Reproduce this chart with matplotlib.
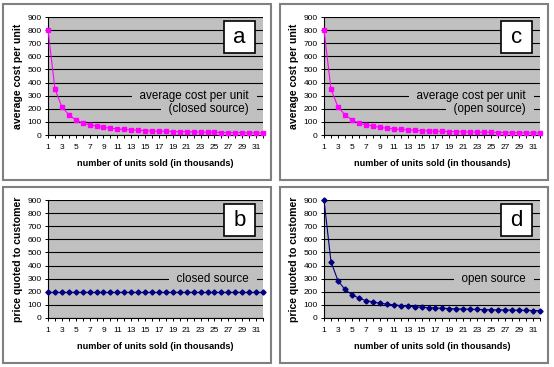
import matplotlib
matplotlib.use('Agg')
import matplotlib.pyplot as plt
from matplotlib.patches import Rectangle

plt.rcParams['font.family'] = ['Liberation Sans', 'DejaVu Sans']

units = list(range(1, 33))
cost_closed = [800, 350, 215, 155, 115, 90, 78, 68, 58, 52, 46, 42, 40, 36, 33, 31,
               29, 27, 26, 25, 24, 23, 22, 21, 20, 19, 18.5, 18, 17.5, 17, 16.5, 16]
cost_open = list(cost_closed)
price_closed = [200] * 32
price_open = [900, 430, 285, 218, 178, 152, 133, 122, 113, 106, 100, 95, 90, 86, 82, 79,
              76, 74, 72, 70, 68, 67, 65, 64, 63, 62, 61, 60, 59, 58, 57, 57]

W, H = 554, 367
fig = plt.figure(figsize=(W / 100, H / 100), dpi=100)
fig.patch.set_facecolor('white')

# panel borders (pixels: x0, y0, x1, y1)
for x0, y0, x1, y1 in [(3, 4, 271, 180), (280, 4, 548, 180), (3, 187, 271, 363), (280, 187, 548, 363)]:
    fig.patches.append(Rectangle((x0 / W, 1 - y1 / H), (x1 - x0) / W, (y1 - y0) / H,
                                 transform=fig.transFigure, fill=False,
                                 edgecolor='#808080', lw=1.5))

def panel(px, py, vals, color, marker, ylabel, letter, lines):
    x0, x1 = px
    y0, y1 = py
    ax = fig.add_axes([x0 / W, 1 - y1 / H, (x1 - x0) / W, (y1 - y0) / H])
    ax.set_facecolor('#C0C0C0')
    ax.plot(units, vals, color=color, marker=marker, ms=2.6,
            lw=0.8, zorder=5, clip_on=False)
    ax.set_xlim(1, 32)
    ax.set_ylim(0, 900)
    ax.set_yticks(range(0, 901, 100))
    ax.set_xticks(units)
    ax.set_xticklabels([str(u) if u % 2 == 1 else '' for u in units])
    ax.yaxis.grid(True, color='black', lw=0.8)
    ax.set_axisbelow(True)
    for s in ['top', 'right']:
        ax.spines[s].set_visible(False)
    ax.spines['left'].set_linewidth(0.8)
    ax.spines['bottom'].set_linewidth(0.8)
    ax.tick_params(axis='both', labelsize=6, length=2.5, width=0.7, pad=2, colors='black')
    ax.tick_params(axis='x', pad=4)
    ax.set_xlabel('number of units sold (in thousands)', fontsize=6.6, fontweight='bold', labelpad=6)
    ax.set_ylabel(ylabel, fontsize=7.6, fontweight='bold', labelpad=3)
    # letter box
    ax.add_patch(Rectangle((0.819, 0.692), 0.144, 0.276, transform=ax.transAxes,
                           facecolor='white', edgecolor='black', lw=1.2, zorder=6))
    ax.text(0.891, 0.83, letter, transform=ax.transAxes, ha='center', va='center',
            fontsize=16, zorder=7)
    for txt, yv in lines:
        ax.text(0.965, yv, '  ' + txt + '  ', transform=ax.get_yaxis_transform(),
                ha='right', va='center', fontsize=8.4, zorder=4,
                bbox=dict(facecolor='#C0C0C0', edgecolor='none', pad=0.8))
    return ax

panel((48, 263), (17, 135), cost_closed, '#FF00FF', 's', 'average cost per unit', 'a',
      [('average cost per unit', 300), ('(closed source)', 200)])
panel((324, 540), (17, 135), cost_open, '#FF00FF', 's', 'average cost per unit', 'c',
      [('average cost per unit', 300), ('(open source)', 200)])
panel((48, 263), (200, 318), price_closed, '#000080', 'D', 'price quoted to customer', 'b',
      [('closed source', 300)])
panel((324, 540), (200, 318), price_open, '#000080', 'D', 'price quoted to customer', 'd',
      [('open source', 300)])

fig.savefig('out.png', dpi=100)
